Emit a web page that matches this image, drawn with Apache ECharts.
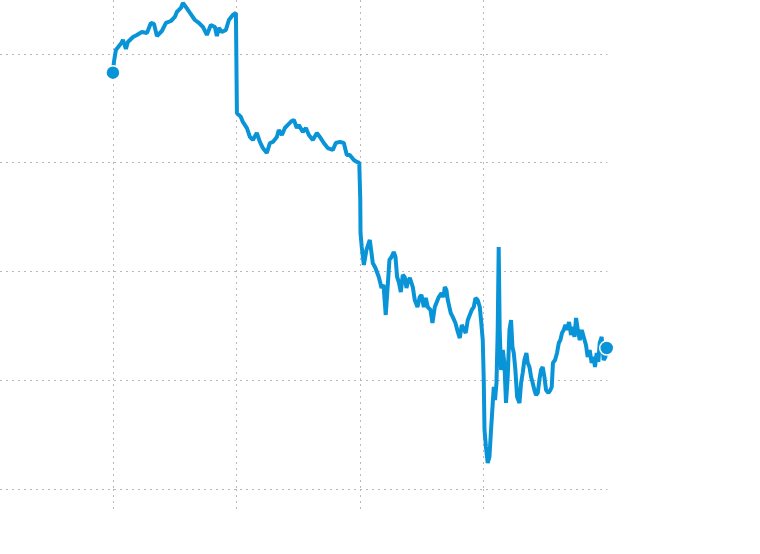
<!DOCTYPE html>
<html>
<head>
<meta charset="utf-8">
<style>html,body{margin:0;padding:0;background:#fff;}#c{width:760px;height:554px;}</style>
<script src="https://cdn.jsdelivr.net/npm/echarts@6/dist/echarts.min.js"></script>
</head>
<body>
<div id="c"></div>
<script>
// x values (time units), gridlines every 100
const xValues = [100,100.8,102.4,104.9,107.0,108.1,110.5,112.1,116.2,119.4,123.4,127.5,130.7,133.2,135.6,139.6,142.9,146.9,150.1,151.7,155.0,156.6,159.0,162.3,166.3,169.5,172.8,176.0,179.2,182.5,184.1,185.7,188.1,191.4,193.8,197.0,199.5,
200.3,201.1,203.5,205.1,208.4,210.8,213.2,216.4,218.9,221.3,224.5,227.0,229.4,232.6,234.2,236.7,239.1,241.5,244.7,246.4,248.8,250.4,253.6,256.1,258.5,261.7,265.0,267.4,270.6,273.8,277.9,280.3,283.6,286.8,289.2,291.6,294.9,297.3,299.3,
300.1,300.3,301.3,303.0,305.1,307.8,309.2,310.2,312.4,313.5,315.1,317.3,318.9,320.7,322.1,323.7,325.4,327.2,328.6,329.9,331.3,332.9,334.5,336.1,337.5,338.5,340.2,342.6,344.2,346.4,348.2,349.6,351.5,353.1,354.7,356.9,358.5,360.4,362.0,363.6,365.8,367.4,368.5,369.8,370.9,373.3,374.9,377.1,379.0,380.6,382.2,383.8,385.4,387.1,388.7,390.3,391.9,393.3,395.1,396.8,397.8,399.2,
400.0,400.6,401.8,403.2,404.6,405.9,407.3,408.1,409.1,410.3,411.3,412.1,412.9,414.0,415.4,416.7,418.0,419.4,420.8,422.1,423.2,424.3,425.6,427.0,428.9,430.2,431.5,432.9,434.5,435.6,437.0,438.3,439.6,441.0,442.3,443.7,445.0,446.3,447.7,449.1,450.4,452.3,453.9,455.0,456.0,457.7,459.3,460.7,462.0,463.3,464.7,466.1,467.4,469.0,470.6,472.0,473.4,474.7,476.1,477.7,479.3,480.9,482.7,484.1,485.7,487.3,488.9,490.0,491.4,492.7,493.8,495.4,497.0,498.4,499.5];
const yValues = [38.28,39.26,40.37,40.73,41.04,41.29,40.46,41.10,41.56,41.75,42.02,41.93,42.85,42.76,41.65,42.11,42.85,43.03,43.40,43.86,44.23,44.69,44.32,43.77,43.12,42.85,42.48,41.75,42.66,42.48,41.65,42.39,42.02,42.21,43.12,43.58,43.77,
34.57,34.39,34.21,33.75,33.19,32.37,32.09,32.73,31.91,31.35,30.90,31.81,31.91,32.37,33.01,32.55,33.19,33.47,33.84,33.93,33.19,33.47,32.83,33.19,32.55,32.09,32.73,32.37,31.81,31.35,31.17,31.81,31.91,31.81,30.71,30.71,30.25,30.07,29.98,
26.57,23.54,22.25,20.60,21.98,22.90,21.70,20.78,20.32,20.41,19.49,18.48,18.76,16.00,18.30,21.06,21.33,21.79,21.33,19.49,19.03,18.11,19.68,19.49,18.48,19.03,19.40,18.57,17.38,16.73,17.65,17.84,16.73,17.56,16.73,16.46,15.26,16.73,16.64,17.65,18.02,17.65,18.57,18.30,17.38,16.18,15.82,15.26,14.44,13.88,15.08,14.90,14.34,15.54,16.00,16.46,16.73,17.56,17.38,16.73,15.54,13.70,
10.02,5.43,3.86,2.39,2.94,5.43,7.91,9.38,8.18,9.75,14.62,22.25,14.62,10.94,12.78,11.59,7.91,10.30,14.62,15.54,13.06,12.51,10.94,8.46,7.91,9.75,10.67,11.86,12.51,11.59,11.22,10.30,9.75,9.10,8.64,8.83,10.02,10.94,11.22,10.30,9.10,8.83,9.10,9.38,11.59,11.86,12.51,13.42,13.70,14.34,14.62,15.08,14.62,15.36,14.16,14.90,13.98,15.72,14.62,13.70,14.62,14.44,13.24,12.14,12.78,11.59,12.14,11.22,12.51,11.68,13.42,13.98,11.86,12.14,12.96];
const xTicks = [100, 200, 300, 400];
const yTicks = [0, 10, 20, 30, 40];
const xRange = [8.63, 500];
const yRange = [0, 44.96];

const lineData = xValues.map((x, i) => [x, yValues[i]]);
const lastIdx = xValues.length - 1;
const gridColor = '#b8b8b8';
const blue = '#0a94d8';
const dash = [2, 4];

const chart = echarts.init(document.getElementById('c'), null, {renderer: 'canvas'});
chart.setOption({
  animation: false,
  backgroundColor: '#fff',
  grid: {left: 0, right: 152.65, top: 0, bottom: 65, containLabel: false},
  xAxis: {
    type: 'value', min: xRange[0], max: xRange[1],
    axisLine: {show: false},
    axisLabel: {show: false, customValues: xTicks},
    axisTick: {show: true, length: 22, customValues: xTicks,
      lineStyle: {color: gridColor, width: 1, type: dash}},
    splitLine: {show: true, showMaxLine: true, showMinLine: true,
      lineStyle: {color: gridColor, width: 1, type: dash}}
  },
  yAxis: {
    type: 'value', min: yRange[0], max: yRange[1],
    axisLine: {show: false},
    axisLabel: {show: false, customValues: yTicks},
    axisTick: {show: false, customValues: yTicks},
    splitLine: {show: true, showMaxLine: true, showMinLine: true,
      lineStyle: {color: gridColor, width: 1, type: dash}}
  },
  series: [
    {
      type: 'line', data: lineData, showSymbol: false, symbol: 'none',
      lineStyle: {color: blue, width: 4}, z: 2
    },
    {
      type: 'scatter', symbolSize: 14, z: 3,
      data: [lineData[0], lineData[lastIdx]],
      itemStyle: {color: blue, opacity: 1, borderColor: '#fff', borderWidth: 1.5}
    }
  ]
});
</script>
</body>
</html>
